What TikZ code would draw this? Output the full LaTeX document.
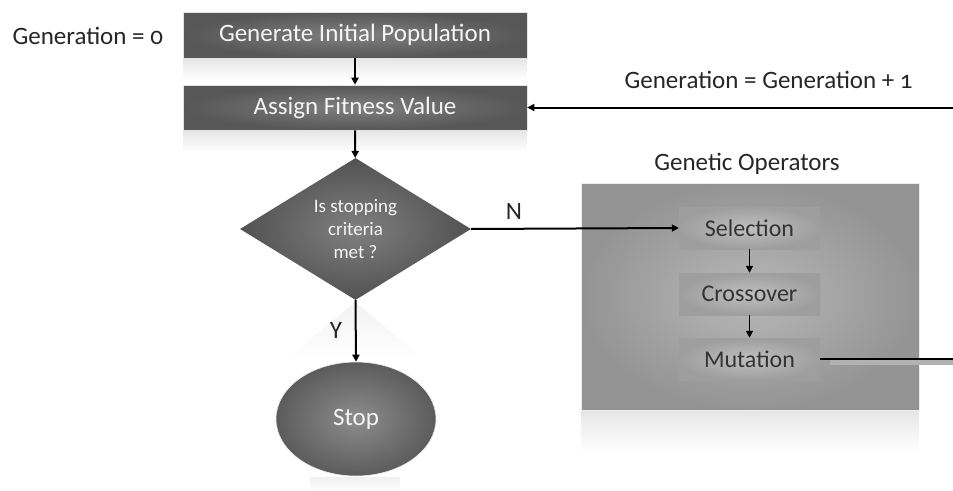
\documentclass[tikz,border=0pt]{standalone}
\usepackage{fontspec}
\setmainfont{Carlito}[Numbers=OldStyle]
\usetikzlibrary{shapes.geometric,arrows.meta}
\tikzset{
  darkbox/.style={rectangle, minimum width=344pt, minimum height=46pt, inner sep=0pt,
    inner color=black!50, outer color=black!66, draw=white!80!gray, line width=0.6pt,
    text=white!92!gray, font=\fontsize{25}{29}\selectfont},
  lightbox/.style={rectangle, minimum width=141pt, minimum height=42pt, inner sep=0pt,
    inner color=black!25, outer color=black!38, text=black!80, font=\fontsize{24}{28}\selectfont},
  conn/.style={line width=2pt, -{Triangle[length=7pt,width=7pt]}},
  plainline/.style={line width=2pt},
  lbl/.style={text=black!85, font=\fontsize{25}{29}\selectfont},
  refl/.style={top color=black!10, bottom color=white, draw=none},
}
\begin{document}
\begin{tikzpicture}[x=1pt,y=-1pt]
\useasboundingbox (0,0) rectangle (953,490);
% reflections
\fill[refl] (183,58) rectangle (527,80);
\fill[refl] (183,131) rectangle (527,152);
\fill[refl] (581,410) rectangle (919,452);
\shade[top color=black!5, bottom color=white] (355,302) -- (285,360) -- (425,360) -- cycle;
\shade[top color=black!6, bottom color=white] (310,477) rectangle (400,490);
% big operator box
\node[rectangle, minimum width=338pt, minimum height=227pt, inner sep=0pt,
  inner color=black!28, outer color=black!42, draw=white!85!gray, line width=0.6pt]
  (ops) at (750,296.5) {};
\node[lbl, anchor=base] (opslbl) at (747,170) {Genetic Operators};
% main nodes
\node[darkbox] (init) at (355,35) {Generate Initial Population};
\node[darkbox, minimum height=45pt] (fit) at (355,107.5) {Assign Fitness Value};
\node[diamond, minimum width=231pt, minimum height=142pt, inner sep=0pt, aspect=1.63,
  inner color=black!50, outer color=black!68, text=white!92!gray, align=center,
  font=\fontsize{19}{23}\selectfont] (dec) at (355.5,229) {Is stopping\\criteria\\met ?};
\node[ellipse, minimum width=160pt, minimum height=114pt, inner sep=0pt,
  inner color=black!45, outer color=black!64, draw=white!85!gray, line width=0.6pt,
  text=white!92!gray, font=\fontsize{25}{29}\selectfont] (stop) at (356,419) {Stop};
\node[lightbox] (sel) at (749.5,228) {Selection};
\node[lightbox] (cro) at (749.5,294) {Crossover};
\node[lightbox] (mut) at (749.5,359) {Mutation};
% labels
\node[lbl, anchor=base west] (gen0) at (9,44) {Generation = 0};
\node[lbl, anchor=base west] (gen1) at (621,88) {Generation = Generation + 1};
\node[lbl] (nlbl) at (514,211) {N};
\node[lbl] (ylbl) at (336,330) {Y};
% edge coordinates
\coordinate (eout) at (953,359);
\coordinate (ein) at (953,107.5);
% connectors
\draw[conn] (init) -- (fit);
\draw[conn] (fit) -- (dec);
\draw[conn] (dec.east) -- (sel.west);
\draw[conn] (dec.south) -- (stop.north);
\draw[conn, line width=1.6pt] (sel) -- (cro);
\draw[conn, line width=1.6pt] (cro) -- (mut);
\draw[line width=5pt, black!30] ([xshift=10pt,yshift=-3pt]mut.east) -- ([yshift=-3pt]eout);
\draw[plainline] (mut.east) -- (eout);
\draw[conn] (ein) -- (fit.east);
\end{tikzpicture}
\end{document}
